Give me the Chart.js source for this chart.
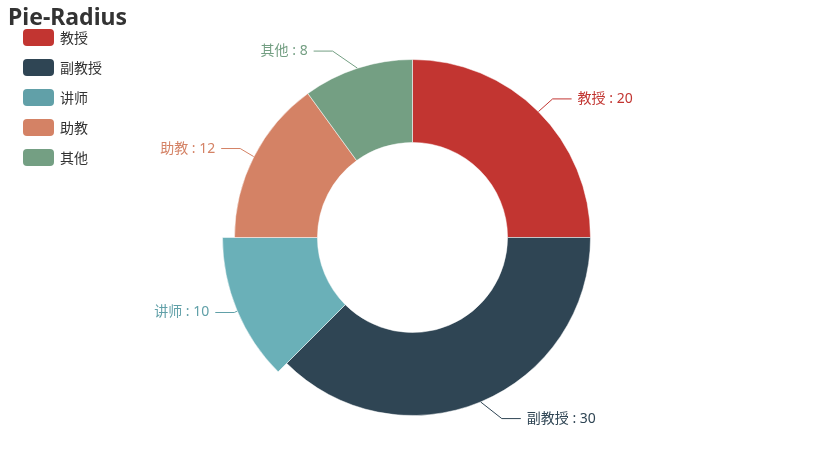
<!DOCTYPE html>
<html>
<head>
<meta charset="utf-8">
<script src="https://cdn.jsdelivr.net/npm/chart.js@4"></script>
<style>
  body { margin: 0; background: #fff; }
  #wrap { position: relative; width: 825px; height: 475px; }
  #title { position: absolute; left: 8px; top: 0px; font: bold 23px "Noto Sans", "Noto Sans CJK SC", sans-serif; color: #333; }
  #legend { position: absolute; left: 23px; top: 29px; font: 14px "Noto Sans CJK SC", sans-serif; color: #333; }
  .item { height: 30px; display: flex; align-items: flex-start; }
  .box { width: 31px; height: 17px; border-radius: 4px; margin-right: 6px; }
  .item span { line-height: 17px; }
</style>
</head>
<body>
<div id="wrap">
  <canvas id="chart" width="825" height="475"></canvas>
  <div id="title">Pie-Radius</div>
  <div id="legend"></div>
</div>
<script>
// dados do gráfico
const categorias = ['教授', '副教授', '讲师', '助教', '其他'];
const valores = [20, 30, 10, 12, 8];
const cores = ['#c23531', '#2f4554', '#61a0a8', '#d48265', '#749f83'];
const destaque = 2; // fatia em destaque (讲师)

// legenda em html
const legenda = document.getElementById('legend');
categorias.forEach((nome, i) => {
  const item = document.createElement('div');
  item.className = 'item';
  item.innerHTML = `<div class="box" style="background:${cores[i]}"></div><span>${nome}</span>`;
  legenda.appendChild(item);
});

const fatiaDestaque = {
  id: 'fatiaDestaque',
  afterDatasetsUpdate(chart) {
    const arc = chart.getDatasetMeta(0).data[destaque];
    arc.outerRadius += 12;
  }
};

// rótulos com linha guia, desenhados por baixo das fatias
const rotulos = {
  id: 'rotulos',
  beforeDatasetsDraw(chart) {
    const ctx = chart.ctx;
    const meta = chart.getDatasetMeta(0);
    const base = meta.data[0].outerRadius;
    ctx.save();
    ctx.font = '14px "Noto Sans", "Noto Sans CJK SC", sans-serif';
    ctx.textBaseline = 'middle';
    meta.data.forEach((arc, i) => {
      const a = (arc.startAngle + arc.endAngle) / 2;
      const cos = Math.cos(a), sin = Math.sin(a);
      const dir = cos >= 0 ? 1 : -1;
      const x0 = arc.x + base * cos, y0 = arc.y + base * sin;
      const y1 = arc.y + (base + 18) * sin;
      const dy = y1 - arc.y;
      const x3 = arc.x + dir * Math.sqrt(Math.pow(base + 33, 2) - dy * dy);
      const x2 = x3 - dir * 19;
      ctx.strokeStyle = cores[i];
      ctx.lineWidth = 1;
      ctx.beginPath();
      ctx.moveTo(x0, y0);
      ctx.lineTo(x2, y1);
      ctx.lineTo(x3, y1);
      ctx.stroke();
      ctx.fillStyle = cores[i];
      ctx.textAlign = dir > 0 ? 'left' : 'right';
      ctx.fillText(`${categorias[i]} : ${valores[i]}`, x3 + dir * 6, y1);
    });
    ctx.restore();
  }
};

const ctx = document.getElementById('chart').getContext('2d');
const chart = new Chart(ctx, {
  type: 'doughnut',
  data: {
    labels: categorias,
    datasets: [{
      data: valores,
      backgroundColor: cores.map((c, i) => i === destaque ? '#6ab0b8' : c),
      borderColor: '#ffffff',
      borderWidth: 0.5
    }]
  },
  options: {
    responsive: false,
    animation: false,
    radius: 178,
    cutout: '53.4%',
    layout: { padding: 0 },
    plugins: {
      legend: { display: false },
      tooltip: { enabled: false }
    },
    events: []
  },
  plugins: [fatiaDestaque, rotulos]
});
</script>
</body>
</html>
